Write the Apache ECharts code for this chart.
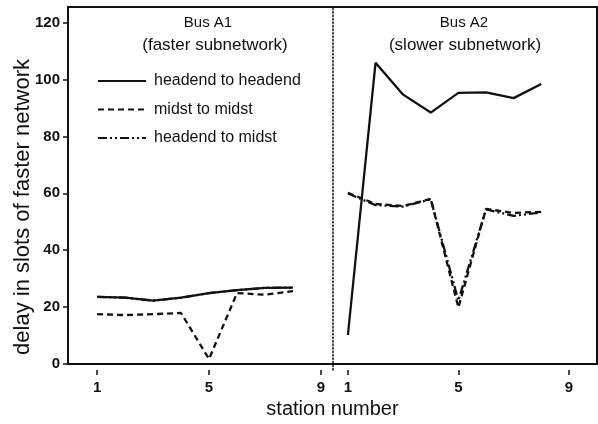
<!DOCTYPE html>
<html>
<head>
<meta charset="utf-8">
<script src="https://cdn.jsdelivr.net/npm/echarts@6/dist/echarts.min.js"></script>
<style>
  html, body { margin: 0; padding: 0; background: #fff; }
  #chart { width: 598px; height: 424px; }
</style>
</head>
<body>
<div id="chart"></div>
<script>
// station numbers on each bus
const stations = [1, 2, 3, 4, 5, 6, 7, 8];
const tickStations = [1, 5, 9];
const yTicks = [0, 20, 40, 60, 80, 100, 120];

// Bus A1 (faster subnetwork)
const a1HeadHead = [25.3, 25.0, 24.0, 25.0, 26.6, 27.6, 28.4, 28.5];
const a1MidstMidst = [19.3, 19.0, 19.3, 19.7, 3.8, 26.6, 26.0, 27.3];
const a1HeadMidst = [25.3, 25.0, 24.0, 25.0, 26.6, 27.6, 28.4, 28.5];

// Bus A2 (slower subnetwork)
const a2HeadHead = [12.1, 106.2, 95.2, 89.0, 95.8, 96.0, 94.0, 98.9];
const a2MidstMidst = [61.3, 57.4, 56.7, 59.2, 21.6, 55.7, 54.3, 54.7];
const a2HeadMidst = [61.0, 57.0, 56.5, 59.0, 24.0, 55.5, 53.3, 54.5];

const names = ['headend to headend', 'midst to midst', 'headend to midst'];
const ink = '#111';
const dashDot = [9, 3, 2, 3, 2, 3];

function pairs(xs, ys) { return xs.map((x, i) => [x, ys[i]]); }

function lineSeries(name, data, idx, type, z) {
  return {
    name: name, type: 'line', xAxisIndex: idx, yAxisIndex: idx,
    data: data, showSymbol: false, symbol: 'none', z: z,
    lineStyle: { color: ink, width: 2.3, type: type },
    itemStyle: { color: ink }
  };
}

const chart = echarts.init(document.getElementById('chart'));

const panelX = (i, min, max) => ({
  type: 'value', gridIndex: i, min: min, max: max,
  axisLine: { show: false }, splitLine: { show: false },
  axisTick: { show: true, customValues: tickStations, length: 5, lineStyle: { color: ink, width: 1.5 } },
  axisLabel: { show: true, customValues: tickStations, margin: 10, color: ink,
    fontFamily: 'Liberation Sans', fontWeight: 'bold', fontSize: 15 }
});

const panelY = (i, showLine) => ({
  type: 'value', gridIndex: i, min: 0, max: 125.5, interval: 20,
  axisLine: { show: showLine, lineStyle: { color: ink, width: 1.5, type: [1.5, 2] } },
  axisTick: { show: false }, axisLabel: { show: false }, splitLine: { show: false }
});

const txt = (x, y, text, size) => ({
  type: 'text', x: x, y: y,
  style: { text: text, align: 'center', verticalAlign: 'middle', fill: ink,
    font: size + 'px "Liberation Sans"' }
});

chart.setOption({
  animation: false,
  backgroundColor: '#fff',
  grid: [
    { left: 68, right: 1, top: 7, bottom: 54, show: true, borderColor: ink, borderWidth: 2 },
    { left: 68, width: 265, top: 7, bottom: 54 },
    { left: 333, right: 1, top: 7, bottom: 54 }
  ],
  xAxis: [
    { type: 'value', gridIndex: 0, min: 0, max: 1,
      name: 'station number', nameLocation: 'middle', nameGap: 35,
      nameTextStyle: { color: ink, fontFamily: 'Liberation Sans', fontSize: 20 },
      axisLine: { show: false }, axisTick: { show: false }, axisLabel: { show: false }, splitLine: { show: false } },
    panelX(1, -0.04, 9.43),
    panelX(2, 0.46, 10.02)
  ],
  yAxis: [
    { type: 'value', gridIndex: 0, min: 0, max: 125.5, interval: 20,
      axisLine: { show: true, lineStyle: { color: ink, width: 2 } },
      axisTick: { show: true, length: 5, lineStyle: { color: ink, width: 1.5 } },
      axisLabel: { showMaxLabel: false, margin: 8, color: ink, fontFamily: 'Liberation Sans',
        fontWeight: 'bold', fontSize: 15,
        formatter: v => (yTicks.indexOf(v) >= 0 ? String(v) : '') },
      splitLine: { show: false } },
    panelY(1, false),
    panelY(2, true)
  ],
  legend: {
    orient: 'vertical', left: 97, top: 73, padding: 0,
    itemWidth: 48, itemHeight: 16, itemGap: 12.5,
    data: names,
    itemStyle: { opacity: 0 },
    textStyle: { color: ink, fontFamily: 'Liberation Sans', fontSize: 16, padding: [0, 0, 0, 3] }
  },
  graphic: [
    txt(208, 23, 'Bus A1', 15),
    txt(215, 45, '(faster subnetwork)', 17),
    txt(464, 23, 'Bus A2', 15),
    txt(465, 45, '(slower subnetwork)', 17),
    Object.assign(txt(0, 0, 'delay in slots of faster network', 22),
      { x: 23, y: 207, rotation: Math.PI / 2 })
  ],
  series: [
    lineSeries(names[0], pairs(stations, a1HeadHead), 1, 'solid', 2),
    lineSeries(names[1], pairs(stations, a1MidstMidst), 1, [6, 4], 3),
    lineSeries(names[2], pairs(stations, a1HeadMidst), 1, dashDot, 1),
    lineSeries(names[0], pairs(stations, a2HeadHead), 2, 'solid', 2),
    lineSeries(names[1], pairs(stations, a2MidstMidst), 2, [6, 4], 3),
    lineSeries(names[2], pairs(stations, a2HeadMidst), 2, dashDot, 1)
  ]
});
</script>
</body>
</html>
